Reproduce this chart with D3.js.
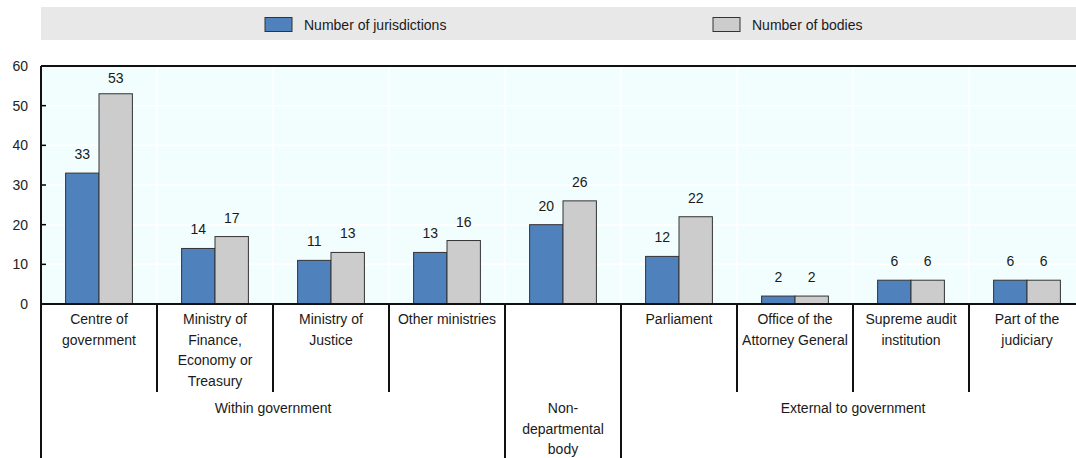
<!DOCTYPE html>
<html>
<head>
<meta charset="utf-8">
<script src="https://cdn.jsdelivr.net/npm/d3@7"></script>
<style>
  html, body { margin: 0; padding: 0; background: #fff; }
  svg { display: block; font-family: "Liberation Sans", Arial, sans-serif; }
</style>
</head>
<body>
<svg id="chart" width="1076" height="458"></svg>
<script>
// ---- Data ----
const categories = [
  "Centre of government",
  "Ministry of Finance, Economy or Treasury",
  "Ministry of Justice",
  "Other ministries",
  "Non-departmental body",
  "Parliament",
  "Office of the Attorney General",
  "Supreme audit institution",
  "Part of the judiciary"
];
const categoryLabelLines = [
  ["Centre of", "government"],
  ["Ministry of", "Finance,", "Economy or", "Treasury"],
  ["Ministry of", "Justice"],
  ["Other ministries"],
  [],
  ["Parliament"],
  ["Office of the", "Attorney General"],
  ["Supreme audit", "institution"],
  ["Part of the", "judiciary"]
];
const groupNames = ["Within government", "Non-departmental body", "External to government"];
const groupLabelLines = [["Within government"], ["Non-", "departmental", "body"], ["External to government"]];
const groupOfCategory = [0, 0, 0, 0, 1, 2, 2, 2, 2];

const seriesNames = ["Number of jurisdictions", "Number of bodies"];
const jurisdictions = [33, 14, 11, 13, 20, 12, 2, 6, 6];
const bodies = [53, 17, 13, 16, 26, 22, 2, 6, 6];
const yTicks = [0, 10, 20, 30, 40, 50, 60];

const seriesValues = [jurisdictions, bodies];
const seriesColors = ["#4F81BD", "#CCCCCC"];

// ---- Layout ----
const svg = d3.select("#chart");
const pLeft = 41, pRight = 1085, pTop = 66, pBottom = 304;
const textColor = "#1a1a1a";

const x0 = d3.scaleBand().domain(categories).range([pLeft, pRight]).paddingInner(0).paddingOuter(0);
const x1 = d3.scaleBand().domain(seriesNames).range([0, x0.bandwidth()]).paddingInner(0).paddingOuter(0.737);
const y = d3.scaleLinear().domain([0, 60]).range([pBottom, pTop]);

// Legend band
svg.append("rect").attr("x", 41).attr("y", 7).attr("width", 1076 - 41).attr("height", 33).attr("fill", "#E8E8E8");
const legendX = [265, 713];
seriesNames.forEach((s, i) => {
  svg.append("rect").attr("x", legendX[i]).attr("y", 17.5).attr("width", 27).attr("height", 14)
    .attr("fill", seriesColors[i]).attr("stroke", "#333").attr("stroke-width", 1);
  svg.append("text").attr("x", legendX[i] + 39).attr("y", 29.5).attr("font-size", 14)
    .attr("fill", textColor).text(s);
});

// Plot background
svg.append("rect").attr("x", pLeft).attr("y", pTop).attr("width", pRight - pLeft).attr("height", pBottom - pTop).attr("fill", "#F2FEFE");

// Gridlines
svg.append("g").selectAll("line").data(yTicks.filter(t => t > 0)).join("line")
  .attr("x1", pLeft).attr("x2", pRight).attr("y1", d => y(d)).attr("y2", d => y(d))
  .attr("stroke", "#fff").attr("stroke-width", 1.5);
svg.append("g").selectAll("line").data(categories.slice(1)).join("line")
  .attr("x1", d => x0(d)).attr("x2", d => x0(d)).attr("y1", pTop).attr("y2", pBottom)
  .attr("stroke", "#fff").attr("stroke-width", 1.5);

// Bars
const groups = svg.append("g").selectAll("g").data(categories).join("g")
  .attr("transform", d => `translate(${x0(d)},0)`);
seriesNames.forEach((s, si) => {
  groups.append("rect")
    .attr("x", x1(s))
    .attr("width", x1.bandwidth())
    .attr("y", (d, i) => y(seriesValues[si][i]))
    .attr("height", (d, i) => y(0) - y(seriesValues[si][i]))
    .attr("fill", seriesColors[si]).attr("stroke", "#333").attr("stroke-width", 1);
  groups.append("text")
    .attr("x", x1(s) + x1.bandwidth() / 2)
    .attr("y", (d, i) => Math.max(y(seriesValues[si][i]) - 14, pTop + 17))
    .attr("text-anchor", "middle").attr("font-size", 14).attr("fill", textColor)
    .text((d, i) => seriesValues[si][i]);
});

// Y axis ticks and labels
const yAxis = d3.axisLeft(y).tickValues(yTicks).tickSize(0).tickPadding(13);
const yg = svg.append("g").attr("transform", `translate(${pLeft},0)`).call(yAxis);
yg.select(".domain").remove();
yg.selectAll("text").attr("font-size", 14).attr("fill", "#222").attr("font-family", "Liberation Sans, Arial, sans-serif");
svg.append("g").selectAll("line").data(yTicks.filter(t => t > 0 && t < 60)).join("line")
  .attr("x1", pLeft).attr("x2", pLeft + 5).attr("y1", d => y(d)).attr("y2", d => y(d))
  .attr("stroke", "#000").attr("stroke-width", 1.5);

// Top border, left axis, bottom axis
svg.append("line").attr("x1", pLeft).attr("x2", pRight).attr("y1", pTop).attr("y2", pTop).attr("stroke", "#111").attr("stroke-width", 2);
svg.append("line").attr("x1", pLeft).attr("x2", pLeft).attr("y1", pTop).attr("y2", 458).attr("stroke", "#111").attr("stroke-width", 2);
svg.append("line").attr("x1", pLeft).attr("x2", pRight).attr("y1", pBottom).attr("y2", pBottom).attr("stroke", "#111").attr("stroke-width", 2);

// Category dividers
categories.forEach((c, i) => {
  if (i === 0) return;
  const isGroupBoundary = groupOfCategory[i] !== groupOfCategory[i - 1];
  svg.append("line").attr("x1", x0(c)).attr("x2", x0(c))
    .attr("y1", pBottom).attr("y2", isGroupBoundary ? 458 : 392)
    .attr("stroke", "#111").attr("stroke-width", 2);
});

// Category labels
const lineH = 20.7;
categories.forEach((c, i) => {
  const t = svg.append("text").attr("text-anchor", "middle").attr("font-size", 14).attr("fill", textColor);
  categoryLabelLines[i].forEach((ln, k) => {
    t.append("tspan").attr("x", x0(c) + x0.bandwidth() / 2).attr("y", 324 + k * lineH).text(ln);
  });
});

// Group labels
groupNames.forEach((g, gi) => {
  const members = categories.filter((c, i) => groupOfCategory[i] === gi);
  const gx0 = x0(members[0]);
  const gx1 = x0(members[members.length - 1]) + x0.bandwidth();
  const t = svg.append("text").attr("text-anchor", "middle").attr("font-size", 14).attr("fill", textColor);
  groupLabelLines[gi].forEach((ln, k) => {
    t.append("tspan").attr("x", (gx0 + gx1) / 2).attr("y", 413 + k * lineH).text(ln);
  });
});
</script>
</body>
</html>
